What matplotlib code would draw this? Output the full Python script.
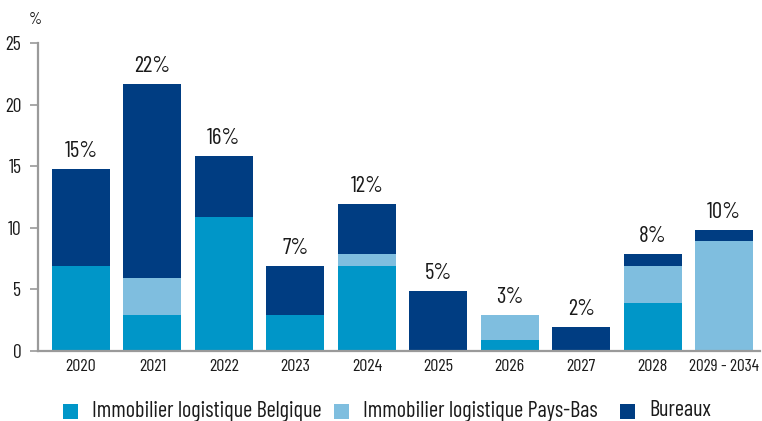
import matplotlib.pyplot as plt
from matplotlib.patches import Rectangle
import numpy as np

plt.rcParams['font.family'] = ['Barlow Condensed', 'DejaVu Sans']

# Data
years = ['2020', '2021', '2022', '2023', '2024', '2025', '2026', '2027', '2028', '2029\u2009-\u20092034']
belgique = [6.9, 2.9, 10.9, 2.9, 6.9, 0.0, 0.9, 0.0, 3.9, 0.0]
pays_bas = [0.0, 3.0, 0.0, 0.0, 1.0, 0.0, 2.0, 0.0, 3.0, 8.9]
bureaux = [7.9, 15.8, 4.9, 4.0, 4.0, 4.9, 0.0, 1.95, 1.0, 0.9]
series_names = ['Immobilier logistique Belgique', 'Immobilier logistique Pays-Bas', 'Bureaux']

colors = ['#0096c8', '#7fbedf', '#003d82']
grey = '#9a9a9a'
txt = '#1a1a1a'

W, H = 762, 421
fig = plt.figure(figsize=(W / 100, H / 100), dpi=100)
ax = fig.add_axes([38 / W, 70 / H, 722 / W, 308 / H])

x = np.arange(len(years))
bottom = np.zeros(len(years))
for vals, c in zip([belgique, pays_bas, bureaux], colors):
    ax.bar(x, vals, width=0.81, bottom=bottom, color=c, zorder=2)
    bottom += np.array(vals)

# totals above each stack
for xi, tot in zip(x, bottom):
    ax.annotate(f'{tot:.0f}%', (xi, tot), xytext=(0, 5), textcoords='offset points',
                ha='center', va='bottom', fontsize=16.5, color=txt)

ax.set_xlim(-0.6, 9.5)
ax.set_ylim(0, 25)
ax.set_yticks([0, 5, 10, 15, 20, 25])
ax.set_xticks(x)
ax.set_xticklabels(years)

for s in ['top', 'right']:
    ax.spines[s].set_visible(False)
for s in ['left', 'bottom']:
    ax.spines[s].set_color(grey)
    ax.spines[s].set_linewidth(1.6)
    ax.spines[s].set_zorder(3)
ax.tick_params(axis='y', length=6, width=1.2, color=grey, labelsize=14, pad=6, labelcolor=txt)
ax.tick_params(axis='x', length=0, labelsize=13, pad=6, labelcolor=txt)
ax.get_xticklabels()[-1].set_fontsize(12.5)

fig.text(35 / W, 1 - 20 / H, '%', ha='center', va='center', fontsize=12, color=txt)

# legend row along the bottom
leg_x = [63, 334, 620]
leg_y = 1 - 411 / H
for lx, c, name in zip(leg_x, colors, series_names):
    fig.patches.append(Rectangle((lx / W, leg_y - 7.5 / H), 15 / W, 15 / H,
                                 transform=fig.transFigure, facecolor=c, edgecolor='none'))
    fig.text((lx + 29) / W, leg_y, name, ha='left', va='center', fontsize=16, color=txt)

fig.savefig('out.png', dpi=100)
